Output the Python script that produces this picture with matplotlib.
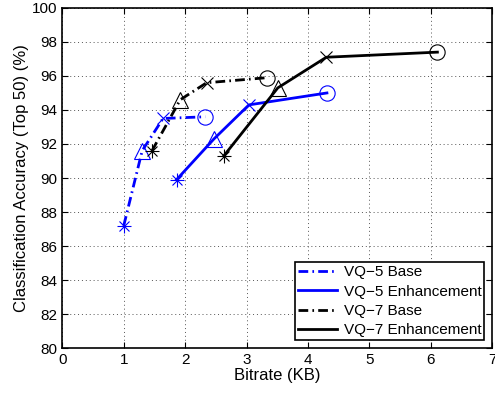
import matplotlib
matplotlib.use('Agg')
import matplotlib.pyplot as plt

plt.rcParams['font.family'] = ['Liberation Sans', 'DejaVu Sans']

# 값
vq5_base_x = [1.00, 1.30, 1.64, 2.33]
vq5_base_y = [87.2, 91.6, 93.5, 93.6]
vq5_enh_x = [1.86, 2.47, 3.04, 4.31]
vq5_enh_y = [89.9, 92.3, 94.3, 95.0]
vq7_base_x = [1.46, 1.92, 2.35, 3.34]
vq7_base_y = [91.6, 94.6, 95.6, 95.9]
vq7_enh_x = [2.63, 3.51, 4.30, 6.11]
vq7_enh_y = [91.3, 95.3, 97.1, 97.4]

markers = ['*', '^', 'x', 'o']

series = [
    (vq5_base_x, vq5_base_y, 'blue', '-.', 'VQ\u22125 Base'),
    (vq5_enh_x, vq5_enh_y, 'blue', '-', 'VQ\u22125 Enhancement'),
    (vq7_base_x, vq7_base_y, 'black', '-.', 'VQ\u22127 Base'),
    (vq7_enh_x, vq7_enh_y, 'black', '-', 'VQ\u22127 Enhancement'),
]

fig = plt.figure(figsize=(4.95, 3.96), dpi=100)
ax = fig.add_axes([0.126, 0.121, 0.868, 0.859])

for xs, ys, color, ls, label in series:
    if ls == '-.':
        ax.plot(xs, ys, color=color, linewidth=2, label=label,
                dashes=(3.5, 1.5, 0.6, 1.5))
    else:
        ax.plot(xs, ys, color=color, linestyle=ls, linewidth=2, label=label)
    # 마커 (MATLAB 스타일)
    for x, y, m in zip(xs, ys, markers):
        if m == '*':
            ax.plot(x, y, marker='+', color=color, markersize=10,
                    markeredgewidth=0.8, linestyle='none')
            ax.plot(x, y, marker='x', color=color, markersize=7,
                    markeredgewidth=0.8, linestyle='none')
        elif m == 'x':
            ax.plot(x, y, marker='x', color=color, markersize=8,
                    markeredgewidth=0.8, linestyle='none')
        else:
            ax.plot(x, y, marker=m, color=color, markersize=11,
                    markerfacecolor='none', markeredgewidth=0.8, linestyle='none')

ax.set_xlim(0, 7)
ax.set_ylim(80, 100)
ax.set_xticks(range(0, 8))
ax.set_yticks(range(80, 101, 2))
ax.grid(True, linestyle=(0, (1, 3)), color='#555555', linewidth=0.7)
ax.tick_params(direction='in', top=True, right=True, labelsize=11, length=4)
for sp in ax.spines.values():
    sp.set_linewidth(1.2)

ax.set_xlabel('Bitrate (KB)', fontsize=12, labelpad=1)
ax.set_ylabel('Classification Accuracy (Top 50) (%)', fontsize=12, labelpad=2)

leg = ax.legend(loc='lower right', fontsize=11, fancybox=False, framealpha=1,
                edgecolor='black', borderpad=0.2, labelspacing=0.35,
                handlelength=2.6, handletextpad=0.4, borderaxespad=0.5)
leg.get_frame().set_linewidth(1.2)

plt.savefig('out.png', dpi=100)
